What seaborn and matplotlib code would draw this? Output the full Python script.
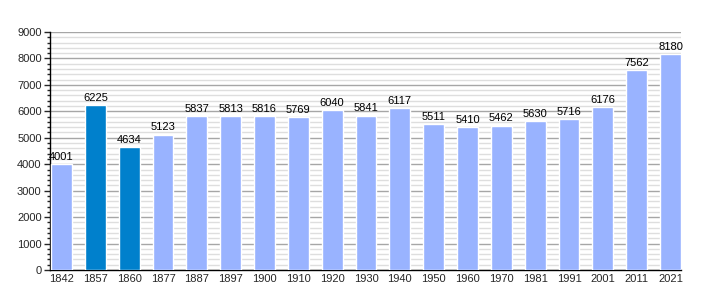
import matplotlib
matplotlib.use("Agg")
import matplotlib.pyplot as plt
import seaborn as sns
import pandas as pd
from matplotlib.ticker import MultipleLocator

years = ["1842", "1857", "1860", "1877", "1887", "1897", "1900", "1910", "1920", "1930",
         "1940", "1950", "1960", "1970", "1981", "1991", "2001", "2011", "2021"]
population = [4001, 6225, 4634, 5123, 5837, 5813, 5816, 5769, 6040, 5841,
              6117, 5511, 5410, 5462, 5630, 5716, 6176, 7562, 8180]
highlight = ["1857", "1860"]

light = "#99b3ff"
dark = "#0080cc"
colors = [dark if y in highlight else light for y in years]

df = pd.DataFrame({"year": years, "pop": population})

sns.set_style("white")
plt.rcParams["font.family"] = ["Liberation Sans", "DejaVu Sans"]

fig = plt.figure(figsize=(7.1, 3.0), dpi=100)
ax = fig.add_axes([50/710, 30/300, 631/710, 238/300])

sns.barplot(data=df, x="year", y="pop", hue="year", palette=colors, legend=False,
            width=0.62, saturation=1, ax=ax, zorder=3)

ax.set_ylim(0, 9000)
ax.set_xlim(-0.34, len(years) - 1 + 0.31)
ax.yaxis.set_major_locator(MultipleLocator(1000))
ax.yaxis.set_minor_locator(MultipleLocator(200))
ax.grid(which="major", axis="y", color="#a6a6a6", linewidth=1, zorder=0)
ax.grid(which="minor", axis="y", color="#dedede", linewidth=1, zorder=0)
ax.set_axisbelow(True)

for i, v in enumerate(population):
    ax.text(i, v + 80, str(v), ha="center", va="bottom", fontsize=8, color="#000000", zorder=4)

for s in ["top", "right"]:
    ax.spines[s].set_visible(False)
ax.spines["left"].set_color("black")
ax.spines["bottom"].set_color("black")
ax.spines["left"].set_linewidth(1)
ax.spines["bottom"].set_linewidth(1)

ax.tick_params(axis="y", which="major", direction="out", length=4, width=1, labelsize=8, left=True, pad=2)
ax.tick_params(axis="y", which="minor", direction="out", length=2, width=1, left=True)
ax.tick_params(axis="x", length=0, labelsize=8, pad=3)
ax.set_xlabel("")
ax.set_ylabel("")

fig.savefig("out.png", dpi=100)
